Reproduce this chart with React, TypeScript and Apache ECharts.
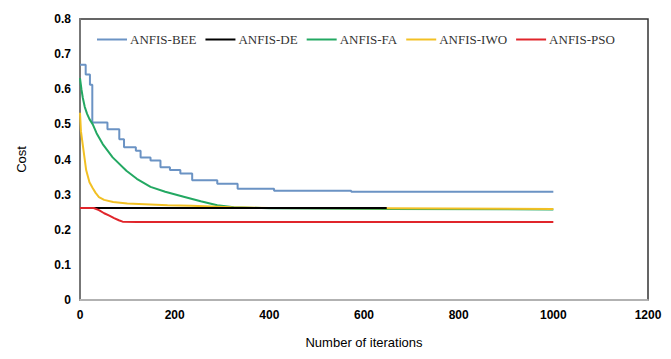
import React, { useEffect, useRef } from "react";
import * as echarts from "echarts";

const seriesNames = ["ANFIS-BEE", "ANFIS-DE", "ANFIS-FA", "ANFIS-IWO", "ANFIS-PSO"];
const seriesColors = ["#6b93c4", "#000000", "#23a862", "#f2c024", "#e0252b"];

const beeData: [number, number][] = [
  [0, 0.67], [12, 0.642], [21, 0.613], [26, 0.505], [58, 0.486], [83, 0.458],
  [93, 0.435], [118, 0.425], [128, 0.406], [149, 0.397], [170, 0.378],
  [190, 0.37], [212, 0.36], [237, 0.341], [290, 0.331], [333, 0.317],
  [410, 0.311], [573, 0.308], [1000, 0.308],
];
const deData: [number, number][] = [
  [0, 0.262], [648, 0.262],
];
const faData: [number, number][] = [
  [0, 0.632], [3, 0.6], [6, 0.575], [10, 0.55], [15, 0.53], [20, 0.515],
  [27, 0.5], [35, 0.475], [48, 0.444], [69, 0.406], [98, 0.368],
  [120, 0.345], [149, 0.322], [180, 0.308], [219, 0.294], [255, 0.281],
  [290, 0.27], [325, 0.264], [400, 0.261], [650, 0.259], [1000, 0.258],
];
const iwoData: [number, number][] = [
  [0, 0.533], [2, 0.48], [6, 0.44], [13, 0.37], [20, 0.335], [27, 0.318],
  [33, 0.305], [40, 0.293], [51, 0.285], [70, 0.279], [100, 0.275],
  [185, 0.27], [235, 0.268], [320, 0.264], [400, 0.262], [650, 0.261], [1000, 0.259],
];
const psoData: [number, number][] = [
  [0, 0.262], [29, 0.262], [40, 0.256], [51, 0.247], [62, 0.24], [72, 0.233],
  [82, 0.227], [90, 0.223], [120, 0.222], [1000, 0.222],
];

const xTicks = { min: 0, max: 1200, interval: 200 };
const yTicks = { min: 0, max: 0.8, interval: 0.1 };

export default function App() {
  const ref = useRef<HTMLDivElement>(null);
  useEffect(() => {
    if (!ref.current) return;
    const chart = echarts.init(ref.current, null, { renderer: "svg" });
    const datasets = [beeData, deData, faData, iwoData, psoData];
    chart.setOption({
      animation: false,
      backgroundColor: "#ffffff",
      legend: {
        left: 92,
        top: 28,
        itemWidth: 30,
        itemHeight: 2,
        itemGap: 9,
        icon: "rect",
        data: seriesNames,
        textStyle: {
          fontFamily: "Liberation Serif",
          fontSize: 13,
          color: "#333",
          padding: [0, 0, 0, -2],
        },
      },
      grid: {
        left: 80,
        right: 23,
        top: 19,
        bottom: 59,
        show: true,
        borderColor: "#333",
        borderWidth: 1.5,
      },
      xAxis: {
        type: "value",
        min: xTicks.min,
        max: xTicks.max,
        interval: xTicks.interval,
        name: "Number of iterations",
        nameLocation: "middle",
        nameGap: 36,
        nameTextStyle: { fontFamily: "Liberation Sans", fontSize: 13, color: "#000" },
        axisLine: { show: true, lineStyle: { color: "#cccccc", width: 1.5 } },
        axisTick: { show: false },
        splitLine: { show: false },
        axisLabel: {
          fontFamily: "Liberation Sans",
          fontWeight: "bold",
          fontSize: 12,
          color: "#000",
          margin: 9,
          formatter: (v: number) => String(v),
        },
      },
      yAxis: {
        type: "value",
        min: yTicks.min,
        max: yTicks.max,
        interval: yTicks.interval,
        name: "Cost",
        nameLocation: "middle",
        nameGap: 52,
        nameTextStyle: { fontFamily: "Liberation Sans", fontSize: 13, color: "#000" },
        axisLine: { show: true, lineStyle: { color: "#777777", width: 2 } },
        axisTick: { show: false },
        splitLine: { show: false },
        axisLabel: {
          fontFamily: "Liberation Sans",
          fontWeight: "bold",
          fontSize: 12,
          color: "#000",
          margin: 9,
          formatter: (v: number) => String(Math.round(v * 10) / 10),
        },
      },
      series: seriesNames.map((name, i) => ({
        name,
        type: "line",
        data: datasets[i],
        step: i === 0 ? "end" : false,
        showSymbol: false,
        symbol: "none",
        z: i === 1 ? 3 : i === 4 ? 4 : 2,
        lineStyle: { color: seriesColors[i], width: 2 },
        itemStyle: { color: seriesColors[i] },
      })),
    });
    return () => chart.dispose();
  }, []);
  return <div ref={ref} style={{ width: 671, height: 359, margin: -8 }} />;
}
